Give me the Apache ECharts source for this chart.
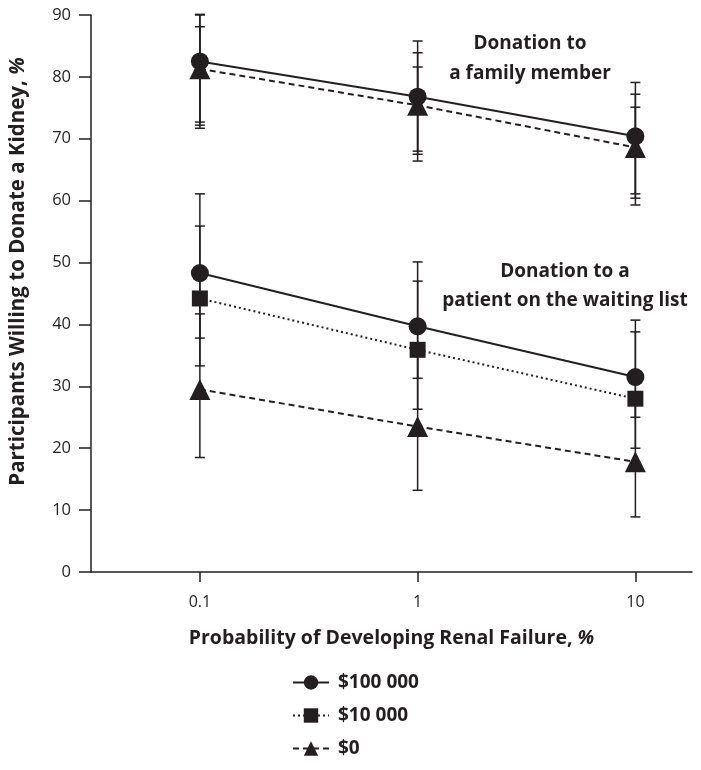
<!DOCTYPE html>
<html>
<head>
<meta charset="utf-8">
<script src="https://cdn.jsdelivr.net/npm/echarts@6/dist/echarts.min.js"></script>
<style>html,body{margin:0;padding:0;background:#fff}#c{width:701px;height:770px}</style>
</head>
<body>
<div id="c"></div>
<script>
// ---- data ----
var probabilities = [0.1, 1, 10];           // % probability of renal failure
var xTickLabels = ['0.1', '1', '10'];
var yTicks = [0, 10, 20, 30, 40, 50, 60, 70, 80, 90];
var seriesNames = ['$100 000', '$10 000', '$0'];

// Donation to a family member
var family100k = [82.5, 76.8, 70.4];
var family100kLow = [72.7, 68.0, 61.1];
var family100kHigh = [90.1, 85.8, 79.1];
var family10kLow = [72.2, 67.5, 60.4];      // only its error bars are visible
var family10kHigh = [90.0, 81.6, 75.1];
var family0 = [81.3, 75.4, 68.6];
var family0Low = [71.7, 66.4, 59.3];
var family0High = [88.1, 83.9, 77.2];

// Donation to a patient on the waiting list
var waiting100k = [48.3, 39.7, 31.5];
var waiting100kLow = [37.8, 31.3, 25.0];
var waiting100kHigh = [61.1, 50.1, 40.7];
var waiting10k = [44.2, 35.9, 28.0];
var waiting10kLow = [33.3, 26.3, 20.0];
var waiting10kHigh = [55.9, 47.0, 38.8];
var waiting0 = [29.5, 23.5, 17.8];
var waiting0Low = [18.5, 13.2, 8.9];
var waiting0High = [41.7, 35.6, 28.0];

// ---- build ----
var INK = '#231f20';
var FONT = "'Open Sans', 'Noto Sans', sans-serif";
var xs = probabilities.map(function (p) { return Math.log10(p); });

function pts(vals) { return vals.map(function (v, i) { return [xs[i], v]; }); }
function errs(lo, hi) { return lo.map(function (l, i) { return [xs[i], l, hi[i]]; }); }

var errorSets = [
  errs(family100kLow, family100kHigh), errs(family10kLow, family10kHigh), errs(family0Low, family0High),
  errs(waiting100kLow, waiting100kHigh), errs(waiting10kLow, waiting10kHigh), errs(waiting0Low, waiting0High)
];
var errData = [].concat.apply([], errorSets);

function renderErr(params, api) {
  var x = api.value(0);
  var lo = api.coord([x, api.value(1)]);
  var hi = api.coord([x, api.value(2)]);
  var hw = 5;
  var st = { stroke: INK, lineWidth: 1.5, fill: null };
  return {
    type: 'group',
    children: [
      { type: 'line', shape: { x1: lo[0], y1: lo[1], x2: hi[0], y2: hi[1] }, style: st },
      { type: 'line', shape: { x1: lo[0] - hw, y1: lo[1], x2: lo[0] + hw, y2: lo[1] }, style: st },
      { type: 'line', shape: { x1: hi[0] - hw, y1: hi[1], x2: hi[0] + hw, y2: hi[1] }, style: st }
    ]
  };
}

var styles = [
  { symbol: 'circle', symbolSize: 18, type: 'solid' },
  { symbol: 'rect', symbolSize: 16, type: [2, 3] },
  { symbol: 'triangle', symbolSize: 21, type: [6, 4] }
];

function lineSeries(name, data, k) {
  return {
    name: name, type: 'line', data: pts(data),
    symbol: styles[k].symbol, symbolSize: styles[k].symbolSize,
    lineStyle: { color: INK, width: 2, type: styles[k].type },
    itemStyle: { color: INK },
    z: 3 + (2 - k), silent: true, animation: false
  };
}

var series = [
  { type: 'custom', renderItem: renderErr, data: errData, z: 1, silent: true, animation: false,
    encode: { x: 0, y: [1, 2] } },
  lineSeries(seriesNames[0], family100k, 0),
  lineSeries(seriesNames[2], family0, 2),
  lineSeries(seriesNames[0], waiting100k, 0),
  lineSeries(seriesNames[1], waiting10k, 1),
  lineSeries(seriesNames[2], waiting0, 2)
];

var chart = echarts.init(document.getElementById('c'), null, { renderer: 'canvas' });
chart.setOption({
  animation: false,
  backgroundColor: '#fff',
  textStyle: { fontFamily: FONT, color: INK },
  grid: { left: 90, right: 9, top: 15, bottom: 198, containLabel: false },
  xAxis: {
    type: 'value', min: -1.5, max: 1.26,
    axisLine: { show: true, onZero: false, lineStyle: { color: INK, width: 1.5 } },
    axisTick: { show: true, customValues: xs, length: 10, inside: false, lineStyle: { color: INK, width: 1.5 } },
    axisLabel: {
      customValues: xs, margin: 22, fontSize: 16, color: INK, fontFamily: FONT,
      formatter: function (v) {
        for (var i = 0; i < xs.length; i++) { if (Math.abs(xs[i] - v) < 1e-6) return xTickLabels[i]; }
        return '';
      }
    },
    splitLine: { show: false },
    name: 'Probability of Developing Renal Failure, {i|%}',
    nameLocation: 'middle', nameGap: 56,
    nameTextStyle: { fontSize: 19.5, fontWeight: 'bold', color: INK, fontFamily: FONT,
      rich: { i: { fontStyle: 'italic', fontSize: 19.5, fontWeight: 'bold', color: INK, fontFamily: FONT } } }
  },
  yAxis: {
    type: 'value', min: 0, max: 90, interval: 10,
    axisLine: { show: true, onZero: false, lineStyle: { color: INK, width: 1.5 } },
    axisTick: { show: true, length: 12, lineStyle: { color: INK, width: 1.5 } },
    axisLabel: { margin: 20, fontSize: 16.5, color: INK, fontFamily: FONT },
    splitLine: { show: false },
    name: 'Participants Willing to Donate a Kidney, {i|%}',
    nameLocation: 'middle', nameGap: 62,
    nameTextStyle: { fontSize: 20.5, fontWeight: 'bold', color: INK, fontFamily: FONT, padding: [0, 0, 0, 44],
      rich: { i: { fontStyle: 'italic', fontSize: 20.5, fontWeight: 'bold', color: INK, fontFamily: FONT } } }
  },
  legend: {
    data: seriesNames,
    orient: 'vertical', left: 287, top: 668, itemGap: 14,
    itemWidth: 36, itemHeight: 18,
    textStyle: { fontSize: 19, fontWeight: 'bold', color: INK, fontFamily: FONT, padding: [0, 0, 0, 4] },
    selectedMode: false
  },
  graphic: [
    { type: 'text', x: 530, y: 44, style: { text: 'Donation to', font: "bold 19px 'Open Sans', sans-serif", fill: INK, textAlign: 'center', textVerticalAlign: 'middle' } },
    { type: 'text', x: 530, y: 74, style: { text: 'a family member', font: "bold 19px 'Open Sans', sans-serif", fill: INK, textAlign: 'center', textVerticalAlign: 'middle' } },
    { type: 'text', x: 565, y: 272, style: { text: 'Donation to a', font: "bold 19px 'Open Sans', sans-serif", fill: INK, textAlign: 'center', textVerticalAlign: 'middle' } },
    { type: 'text', x: 565, y: 301, style: { text: 'patient on the waiting list', font: "bold 19px 'Open Sans', sans-serif", fill: INK, textAlign: 'center', textVerticalAlign: 'middle' } }
  ],
  series: series
});
</script>
</body>
</html>
